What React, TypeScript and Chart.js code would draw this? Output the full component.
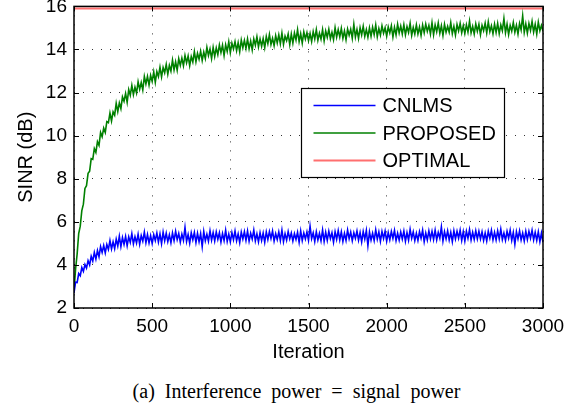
import { useEffect, useRef } from "react";
import { Chart, registerables } from "chart.js";

Chart.register(...registerables);

// ---- data ----
const ITER_STEP = 10; // samples are every 10 iterations, 0..3000

const cnlms = [
  2.70, 3.20, 3.18, 3.60, 3.50, 3.88, 3.70, 4.02, 3.85, 4.20,
  4.00, 4.40, 4.18, 4.58, 4.27, 4.67, 4.38, 4.85, 4.58, 4.90,
  4.56, 4.95, 4.72, 5.13, 4.74, 5.07, 4.76, 5.20, 4.88, 5.33,
  4.85, 5.27, 4.95, 5.32, 4.89, 5.30, 5.04, 5.45, 4.98, 5.31,
  5.02, 5.42, 4.96, 5.36, 5.10, 5.52, 5.03, 5.41, 5.02, 5.36,
  5.00, 5.40, 5.13, 5.48, 5.06, 5.44, 4.99, 5.52, 5.12, 5.47,
  5.08, 5.40, 5.03, 5.48, 5.13, 5.56, 5.18, 5.46, 5.06, 5.43,
  5.14, 5.74, 5.09, 5.41, 5.01, 5.49, 5.17, 5.51, 5.04, 5.47,
  5.08, 5.45, 4.85, 5.55, 5.12, 5.42, 5.10, 5.58, 5.15, 5.50,
  5.11, 5.53, 5.19, 5.49, 5.06, 5.46, 5.13, 5.61, 5.09, 5.43,
  5.07, 5.50, 5.17, 5.57, 5.12, 5.44, 5.04, 5.52, 5.20, 5.54,
  5.14, 5.57, 5.10, 5.47, 5.20, 5.62, 5.12, 5.44, 5.07, 5.50,
  5.13, 5.48, 5.05, 5.53, 5.18, 5.55, 5.23, 5.58, 5.11, 5.45,
  5.18, 5.53, 5.13, 5.61, 5.08, 5.45, 5.15, 5.55, 5.21, 5.48,
  5.11, 5.45, 5.18, 5.51, 5.05, 5.58, 5.13, 5.48, 5.21, 5.53,
  5.14, 5.79, 5.22, 5.49, 5.09, 5.54, 5.16, 5.46, 5.12, 5.62,
  5.09, 5.52, 5.14, 5.56, 5.22, 5.49, 5.06, 5.54, 5.19, 5.59,
  5.16, 5.54, 5.09, 5.46, 5.14, 5.62, 5.22, 5.52, 5.12, 5.49,
  5.23, 5.57, 5.15, 5.50, 5.07, 5.55, 5.20, 5.60, 4.90, 5.53,
  5.15, 5.47, 5.13, 5.63, 5.20, 5.53, 5.10, 5.55, 5.23, 5.57,
  5.10, 5.50, 5.17, 5.55, 5.23, 5.60, 5.13, 5.47, 5.15, 5.53,
  5.20, 5.57, 5.10, 5.50, 5.15, 5.65, 5.23, 5.53, 5.13, 5.47,
  5.14, 5.54, 5.24, 5.61, 5.08, 5.48, 5.16, 5.58, 5.21, 5.56,
  5.18, 5.61, 5.16, 5.51, 5.24, 5.76, 5.11, 5.54, 5.21, 5.58,
  5.16, 5.51, 5.08, 5.58, 5.21, 5.56, 5.24, 5.61, 5.14, 5.54,
  5.11, 5.56, 5.24, 5.64, 5.16, 5.51, 5.18, 5.58, 5.21, 5.56,
  5.21, 5.54, 5.14, 5.48, 5.11, 5.56, 5.24, 5.61, 5.16, 5.51,
  5.16, 5.58, 5.21, 5.66, 5.18, 5.48, 5.14, 5.56, 5.24, 5.61,
  5.14, 5.51, 4.96, 5.54, 5.21, 5.58, 5.16, 5.48, 5.11, 5.56,
  5.18, 5.56, 5.24, 5.61, 5.16, 5.51, 5.14, 5.54, 5.08, 5.48,
  5.05,
];

const proposed = [
  2.80, 3.80, 4.50, 5.45, 5.80, 6.52, 6.82, 7.55, 7.68, 8.25,
  8.35, 8.93, 8.90, 9.40, 9.22, 9.72, 9.55, 10.15, 9.95, 10.35,
  10.15, 10.65, 10.60, 11.05, 10.68, 11.10, 10.95, 11.50, 11.12, 11.52,
  11.25, 11.80, 11.60, 11.96, 11.55, 12.14, 11.88, 12.33, 11.90, 12.25,
  11.98, 12.50, 12.15, 12.47, 12.12, 12.75, 12.40, 12.75, 12.35, 12.80,
  12.52, 12.96, 12.48, 12.97, 12.74, 13.18, 12.73, 13.16, 12.92, 13.31,
  12.85, 13.26, 13.00, 13.51, 13.05, 13.43, 13.04, 13.57, 13.26, 13.60,
  13.25, 13.72, 13.38, 13.70, 13.25, 13.67, 13.42, 13.90, 13.43, 13.82,
  13.55, 13.92, 13.49, 13.88, 13.58, 14.10, 13.72, 14.02, 13.58, 14.10,
  13.68, 14.07, 13.76, 14.21, 13.86, 14.20, 13.72, 14.22, 13.91, 14.36,
  13.85, 14.29, 14.03, 14.36, 13.95, 14.32, 13.90, 14.44, 14.08, 14.42,
  14.05, 14.49, 14.03, 14.39, 13.98, 14.49, 14.20, 14.59, 14.12, 14.49,
  14.15, 14.51, 14.09, 14.60, 14.27, 14.70, 14.23, 14.52, 14.18, 14.64,
  14.30, 14.68, 14.27, 14.76, 14.24, 14.62, 14.41, 14.72, 14.23, 14.72,
  14.30, 14.76, 14.44, 14.92, 14.37, 14.73, 14.30, 14.81, 14.49, 14.78,
  14.41, 14.74, 14.37, 14.83, 14.49, 14.92, 14.43, 14.76, 14.48, 14.92,
  14.40, 14.86, 14.57, 14.94, 14.50, 14.80, 14.46, 15.01, 14.57, 14.92,
  14.58, 14.98, 14.52, 14.86, 14.45, 14.95, 14.66, 14.94, 14.52, 15.17,
  14.58, 14.93, 14.51, 15.01, 14.68, 15.08, 14.61, 14.93, 14.57, 15.00,
  14.61, 15.03, 14.69, 15.14, 14.59, 14.97, 14.67, 15.10, 14.76, 15.01,
  14.62, 15.05, 14.77, 15.10, 14.58, 15.03, 14.68, 15.17, 14.77, 15.09,
  14.72, 15.15, 14.68, 15.06, 14.79, 15.21, 14.66, 15.02, 14.72, 15.14,
  14.72, 15.04, 14.65, 15.13, 14.78, 15.18, 14.84, 15.12, 14.72, 15.24,
  14.69, 15.14, 14.82, 15.23, 14.75, 15.10, 14.65, 15.17, 14.80, 15.07,
  14.80, 15.25, 14.73, 15.07, 14.67, 15.16, 14.86, 15.21, 14.78, 15.11,
  14.74, 15.14, 14.81, 15.32, 14.77, 15.07, 14.72, 15.19, 14.85, 15.17,
  14.69, 15.12, 14.87, 15.22, 14.77, 15.28, 14.83, 15.10, 14.73, 15.18,
  14.79, 15.21, 14.74, 15.14, 14.87, 15.44, 14.78, 15.18, 14.70, 15.12,
  14.85, 15.25, 14.80, 15.12, 14.72, 15.21, 14.91, 15.56, 14.79, 15.19,
  14.76, 15.21, 14.89, 15.31, 14.81, 15.17, 14.72, 15.27, 14.87, 15.12,
  14.85,
];

const optimalLevel = 15.9;
const optimalRange = [0, 3000];

const seriesLabels = ["CNLMS", "PROPOSED", "OPTIMAL"];
const seriesColors = ["#0000ff", "#008000", "#ff6f6f"];

const xTicks = [0, 500, 1000, 1500, 2000, 2500, 3000];
const yTicks = [2, 4, 6, 8, 10, 12, 14, 16];

const xTitle = "Iteration";
const yTitle = "SINR (dB)";
const caption = "(a) Interference power = signal power";

const FONT = "'Liberation Sans', Arial, Helvetica, sans-serif";

const framePlugin = {
  id: "frameAndLegend",
  afterDraw(chart: any) {
    const { ctx, chartArea } = chart;
    const { left, right, top, bottom } = chartArea;
    const xs = chart.scales.x;
    const ys = chart.scales.y;
    ctx.save();
    // inward tick marks on all four sides
    ctx.strokeStyle = "#000";
    ctx.lineWidth = 1;
    const tl = 5;
    ctx.beginPath();
    xTicks.forEach((v) => {
      const px = Math.round(xs.getPixelForValue(v)) + 0.5;
      ctx.moveTo(px, bottom);
      ctx.lineTo(px, bottom - tl);
      ctx.moveTo(px, top);
      ctx.lineTo(px, top + tl);
    });
    yTicks.forEach((v) => {
      const py = Math.round(ys.getPixelForValue(v)) + 0.5;
      ctx.moveTo(left, py);
      ctx.lineTo(left + tl, py);
      ctx.moveTo(right, py);
      ctx.lineTo(right - tl, py);
    });
    ctx.stroke();
    // frame
    ctx.lineWidth = 1.5;
    ctx.strokeRect(left, top, right - left, bottom - top);

    // legend box
    const bw = 203;
    const bh = 89;
    const bx = Math.round(right - 242) + 0.5;
    const by = Math.round(top + 82) + 0.5;
    ctx.fillStyle = "#fff";
    ctx.fillRect(bx, by, bw, bh);
    ctx.lineWidth = 1.2;
    ctx.strokeStyle = "#000";
    ctx.strokeRect(bx, by, bw, bh);
    const rows = [17, 44.5, 72];
    ctx.font = `20px ${FONT}`;
    ctx.textBaseline = "middle";
    ctx.textAlign = "left";
    chart.data.datasets.forEach((ds: any, i: number) => {
      const y = by + rows[i];
      ctx.beginPath();
      ctx.strokeStyle = ds.borderColor;
      ctx.lineWidth = i === 2 ? 2 : 1.3;
      ctx.moveTo(bx + 12, y);
      ctx.lineTo(bx + 74, y);
      ctx.stroke();
      ctx.fillStyle = "#000";
      ctx.fillText(ds.label, bx + 81, y + 1);
    });
    ctx.restore();
  },
};

export default function App() {
  const canvasRef = useRef<HTMLCanvasElement | null>(null);

  useEffect(() => {
    if (!canvasRef.current) return;
    Chart.defaults.font.family = FONT;
    Chart.defaults.color = "#000";
    const toPoints = (arr: number[]) => arr.map((y, i) => ({ x: i * ITER_STEP, y }));
    const chart = new Chart(canvasRef.current, {
      type: "line",
      data: {
        datasets: [
          {
            label: seriesLabels[0],
            data: toPoints(cnlms),
            borderColor: seriesColors[0],
            borderWidth: 1.6,
            pointRadius: 0,
            tension: 0,
          },
          {
            label: seriesLabels[1],
            data: toPoints(proposed),
            borderColor: seriesColors[1],
            borderWidth: 1.6,
            pointRadius: 0,
            tension: 0,
          },
          {
            label: seriesLabels[2],
            data: optimalRange.map((x) => ({ x, y: optimalLevel })),
            borderColor: seriesColors[2],
            borderWidth: 2,
            pointRadius: 0,
          },
        ],
      },
      options: {
        animation: false,
        responsive: false,
        events: [],
        layout: { padding: { top: 18, right: 40, bottom: 0, left: 0 } },
        plugins: { legend: { display: false }, tooltip: { enabled: false } },
        scales: {
          x: {
            type: "linear",
            min: 0,
            max: 3000,
            afterBuildTicks: (s: any) => {
              s.ticks = xTicks.map((value) => ({ value }));
            },
            afterFit: (s: any) => {
              s.height = 58;
            },
            ticks: {
              font: { size: 19 },
              padding: 7,
              color: "#000",
              maxRotation: 0,
              autoSkip: false,
              callback: (v: any) => String(v),
            },
            grid: { color: "rgba(0,0,0,0.8)", lineWidth: 1, drawTicks: false },
            border: { display: false, dash: [1, 8] },
            title: { display: true, text: xTitle, font: { size: 20 }, padding: { top: 0, bottom: 2 }, color: "#000" },
          },
          y: {
            type: "linear",
            min: 2,
            max: 16,
            afterBuildTicks: (s: any) => {
              s.ticks = yTicks.map((value) => ({ value }));
            },
            afterFit: (s: any) => {
              s.width = 74;
            },
            ticks: { font: { size: 19 }, padding: 7, color: "#000", autoSkip: false, callback: (v: any) => String(v) },
            grid: { color: "rgba(0,0,0,0.8)", lineWidth: 1, drawTicks: false },
            border: { display: false, dash: [1, 8] },
            title: { display: true, text: yTitle, font: { size: 20 }, padding: { top: 14, bottom: 0 }, color: "#000" },
          },
        },
      },
      plugins: [framePlugin],
    });
    return () => chart.destroy();
  }, []);

  return (
    <div
      style={{
        position: "absolute",
        left: 0,
        top: 0,
        width: 583,
        height: 407,
        overflow: "hidden",
        background: "#fff",
      }}
    >
      <div style={{ position: "absolute", left: 0, top: -12, width: 583, height: 378 }}>
        <canvas ref={canvasRef} width={583} height={378} style={{ width: 583, height: 378 }} />
      </div>
      <div
        style={{
          position: "absolute",
          left: 0,
          top: 378,
          width: 593,
          textAlign: "center",
          fontFamily: "'Liberation Serif', 'Times New Roman', serif",
          fontSize: 20,
          lineHeight: "26px",
          wordSpacing: 5,
          color: "#000",
          whiteSpace: "nowrap",
        }}
      >
        {caption}
      </div>
    </div>
  );
}
